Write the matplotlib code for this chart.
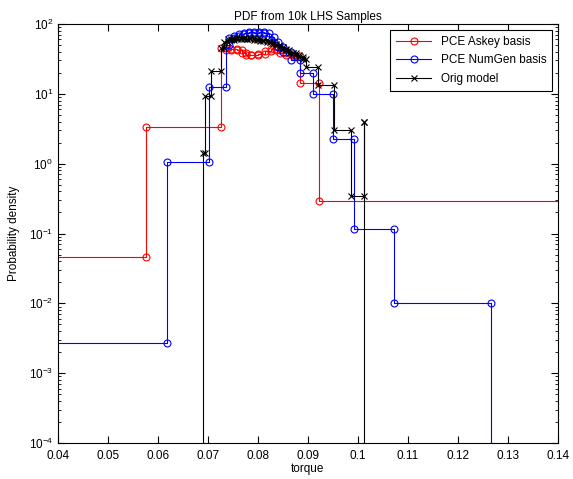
import numpy as np
import matplotlib
matplotlib.use('Agg')
import matplotlib.pyplot as plt
from matplotlib.ticker import LogLocator, FixedLocator

plt.rcParams['font.family'] = ['Liberation Sans', 'DejaVu Sans']
plt.rcParams['mathtext.default'] = 'regular'

# histogram bin edges / densities
askey_edges = [0.0, 0.0577, 0.0726, 0.0736, 0.0747, 0.0759, 0.0769, 0.0777, 0.0787,
               0.0800, 0.0814, 0.0827, 0.0836, 0.0844, 0.0857, 0.0871, 0.0884, 0.0922, 0.2]
askey_vals = [0.046, 3.3, 45, 42, 44, 42, 39, 36, 36, 37, 41, 44, 42, 39, 36, 35, 14.5, 0.29]

numgen_edges = [0.0, 0.0618, 0.0702, 0.0736, 0.0743, 0.0753, 0.0763, 0.0773, 0.0783,
                0.0793, 0.0803, 0.0813, 0.0823, 0.0832, 0.0840, 0.0850, 0.0867, 0.0884,
                0.0911, 0.0951, 0.0992, 0.1072, 0.1266, 0.2]
numgen_vals = [0.0027, 1.05, 12.5, 50, 62, 68, 72, 74, 76, 75, 77, 74, 66, 56, 47, 40,
               30.6, 20, 10.1, 2.27, 0.117, 0.0101, 0]

orig_edges = [0.0, 0.0690, 0.0694, 0.0707, 0.0727, 0.0733, 0.0740, 0.0746, 0.0753,
              0.0759, 0.0766, 0.0772, 0.0779, 0.0785, 0.0792, 0.0798, 0.0805, 0.0811,
              0.0818, 0.0824, 0.0831, 0.0837, 0.0844, 0.0850, 0.0857, 0.0863, 0.0870,
              0.0876, 0.0883, 0.0890, 0.0897, 0.0921, 0.0953, 0.0985, 0.1011, 0.1012, 0.2]
orig_vals = [0, 1.4, 9.3, 21, 45, 55, 60, 58, 62, 60, 63, 61, 60, 62, 59, 60, 57, 58,
             55, 56, 52, 50, 47, 44, 42, 39, 38, 36, 34, 32, 24, 13.3, 3.0, 0.345, 4.0, 0]

xticks = [0.04, 0.05, 0.06, 0.07, 0.08, 0.09, 0.1, 0.11, 0.12, 0.13, 0.14]
xticklabels = ['0.04', '0.05', '0.06', '0.07', '0.08', '0.09', '0.1', '0.11', '0.12', '0.13', '0.14']


def stair_xy(edges, vals):
    xs, ys = [], []
    for i, v in enumerate(vals):
        xs += [edges[i], edges[i + 1]]
        ys += [v, v]
    return np.array(xs), np.array(ys, dtype=float)


fig = plt.figure(figsize=(5.73, 4.79), dpi=100)
ax = fig.add_axes([0.101, 0.075, 0.873, 0.875])

x, y = stair_xy(askey_edges, askey_vals)
ax.plot(x, y, '-o', color='red', mfc='none', ms=5, lw=0.8, mew=0.8, label='PCE Askey basis')
x, y = stair_xy(numgen_edges, numgen_vals)
ax.plot(x, y, '-o', color='blue', mfc='none', ms=5, lw=0.8, mew=0.8, label='PCE NumGen basis')
x, y = stair_xy(orig_edges, orig_vals)
ax.plot(x, y, '-x', color='black', ms=4, lw=0.8, mew=0.8, label='Orig model')

ax.set_yscale('log', nonpositive='clip')
ax.set_xlim(0.04, 0.14)
ax.set_ylim(1e-4, 1e2)
ax.xaxis.set_major_locator(FixedLocator(xticks))
ax.set_xticklabels(xticklabels)
ax.yaxis.set_major_locator(LogLocator(base=10, numticks=10))
ax.yaxis.set_minor_locator(LogLocator(base=10, subs=np.arange(2, 10), numticks=10))

ax.tick_params(which='both', direction='in', top=True, right=True, labelsize=8.5)
ax.tick_params(which='major', length=5)
ax.tick_params(which='minor', length=2.5)
ax.tick_params(axis='x', pad=5)
for s in ax.spines.values():
    s.set_linewidth(0.8)

ax.set_title('PDF from 10k LHS Samples', fontsize=8.5, pad=3)
ax.set_xlabel('torque', fontsize=8.5, labelpad=1)
ax.set_ylabel('Probability density', fontsize=8.5, labelpad=6)

leg = ax.legend(loc='upper right', fontsize=8.5, fancybox=False, framealpha=1,
                edgecolor='black', handlelength=3.0, borderaxespad=0.5, labelspacing=0.55,
                borderpad=0.5)
leg.get_frame().set_linewidth(0.8)

fig.savefig('out.png', dpi=100)
